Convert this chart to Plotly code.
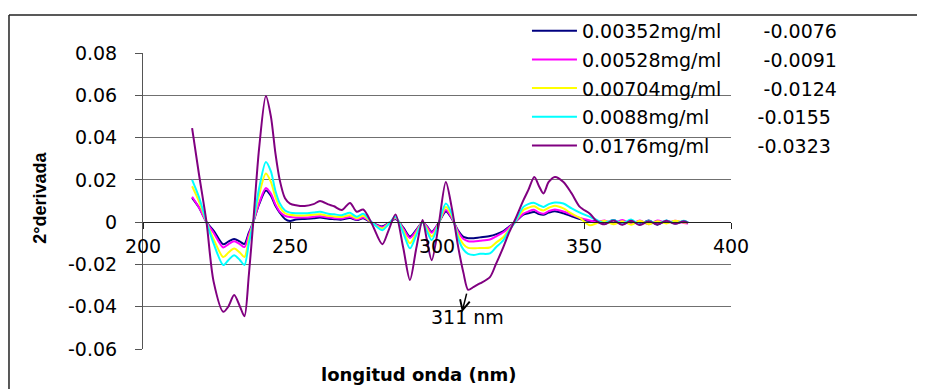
import plotly.graph_objects as go

# ---- data ----
wavelength = [216.7, 219, 221.6, 224, 227.3, 229, 231, 233, 234.5, 236,
              237.5, 239.5, 241.8, 243.5, 245, 246.5, 248.3, 250, 252, 255,
              258, 260.2, 263, 265, 267.6, 270.4, 272.7, 274.9, 277.8, 281.4,
              283.5, 285.9, 288.5, 290.8, 293, 295.1, 296.5, 298.2, 300.5, 303,
              305, 307.2, 309, 310.6, 312.5, 314.6, 318, 320, 322.6, 324.5,
              326.5, 329.4, 331, 333.1, 334.7, 336.2, 338, 340.1, 343, 345.8,
              348.6, 352, 354.3, 357, 360, 363, 366, 369, 372, 375,
              378, 381, 384, 385.4]

s_00352 = [0.0115, 0.007, 0.0, -0.004, -0.0105, -0.0092, -0.0080, -0.0092, -0.0103, -0.005,
           0.0, 0.0085, 0.0150, 0.0125, 0.0078, 0.0045, 0.0015, 0.0005, 0.0012, 0.0015,
           0.0018, 0.0022, 0.0016, 0.0014, 0.0012, 0.0020, 0.0010, 0.0018, -0.0002, -0.0020,
           -0.0005, 0.0015, -0.0025, -0.0068, -0.0035, 0.0, -0.0018, -0.0045, -0.0005, 0.0050,
           0.0018, -0.0040, -0.0070, -0.0076, -0.0076, -0.0072, -0.0066, -0.0058, -0.0042, -0.0022,
           0.0, 0.0035, 0.0042, 0.0048, 0.0038, 0.0035, 0.0045, 0.0052, 0.0042, 0.0028,
           0.0015, 0.0005, 0.0005, -0.0008, 0.0010, -0.0010, 0.0006, -0.0010, 0.0008, -0.0012,
           0.0006, -0.0006, 0.0004, -0.0002]

s_00528 = [0.012, 0.007, 0.0, -0.005, -0.0120, -0.0105, -0.0090, -0.0105, -0.0118, -0.006,
           0.0, 0.009, 0.0162, 0.0135, 0.0085, 0.005, 0.0030, 0.0024, 0.0022, 0.0022,
           0.0025, 0.0028, 0.0022, 0.0019, 0.0017, 0.0024, 0.0012, 0.0022, -0.0002, -0.0024,
           -0.0006, 0.0018, -0.003, -0.0075, -0.004, 0.0, -0.002, -0.005, -0.0005, 0.0058,
           0.002, -0.0045, -0.0080, -0.0090, -0.0091, -0.0088, -0.0082, -0.0068, -0.0048, -0.0025,
           0.0, 0.0040, 0.0050, 0.0058, 0.0045, 0.0040, 0.0052, 0.0060, 0.0050, 0.0035,
           0.0020, 0.0008, 0.0, 0.0008, -0.0006, 0.0010, -0.0008, 0.0008, -0.0010, 0.0008,
           -0.0004, 0.0006, -0.0004, -0.0006]

s_00704 = [0.017, 0.010, 0.0, -0.008, -0.0165, -0.0145, -0.0125, -0.0145, -0.0165, -0.008,
           0.0, 0.013, 0.023, 0.019, 0.012, 0.007, 0.0042, 0.0035, 0.0032, 0.0032,
           0.0035, 0.0037, 0.0030, 0.0027, 0.0024, 0.0033, 0.0018, 0.0030, -0.0002, -0.0030,
           -0.0008, 0.0022, -0.004, -0.0100, -0.005, 0.0, -0.003, -0.0068, -0.001, 0.0072,
           0.003, -0.006, -0.0105, -0.0122, -0.0124, -0.0122, -0.0120, -0.0098, -0.0070, -0.0035,
           0.0, 0.0058, 0.0068, 0.0075, 0.0062, 0.0055, 0.0068, 0.0078, 0.0065, 0.0040,
           0.0020, -0.0015, -0.0005, 0.0006, -0.0010, 0.0004, -0.0012, 0.0006, -0.0010, 0.0004,
           -0.0006, 0.0006, -0.0002, 0.0]

s_0088 = [0.020, 0.012, 0.0, -0.010, -0.0203, -0.018, -0.0156, -0.018, -0.0203, -0.010,
          0.0, 0.016, 0.0285, 0.024, 0.015, 0.009, 0.0055, 0.0045, 0.0042, 0.0042,
          0.0046, 0.0049, 0.0040, 0.0037, 0.0033, 0.0044, 0.0025, 0.0040, 0.0, -0.0038,
          -0.001, 0.0025, -0.005, -0.0124, -0.006, 0.0, -0.004, -0.0085, -0.001, 0.0088,
          0.004, -0.0077, -0.013, -0.0150, -0.0155, -0.0150, -0.0148, -0.012, -0.0085, -0.004,
          0.0, 0.0072, 0.0085, 0.0091, 0.008, 0.0072, 0.0085, 0.0093, 0.0088, 0.0065,
          0.0045, 0.0025, 0.0010, -0.0004, 0.0010, -0.0006, 0.0012, -0.0012, 0.0006, -0.0008,
          0.0008, -0.0006, 0.0006, -0.0002]

s_0176 = [0.0445, 0.023, 0.0, -0.028, -0.0424, -0.040, -0.0345, -0.040, -0.0445, -0.025,
          0.0, 0.035, 0.0597, 0.050, 0.033, 0.020, 0.0113, 0.0088, 0.0080, 0.0076,
          0.0085, 0.0100, 0.0084, 0.0075, 0.0057, 0.0091, 0.0049, 0.0060, -0.0006, -0.0104,
          -0.004, 0.0036, -0.012, -0.0274, -0.012, 0.001, -0.008, -0.018, -0.002, 0.019,
          0.007, -0.0117, -0.024, -0.032, -0.0306, -0.029, -0.026, -0.020, -0.0117, -0.005,
          0.001, 0.0104, 0.015, 0.0214, 0.017, 0.0136, 0.019, 0.0214, 0.019, 0.0136,
          0.0072, 0.0040, 0.0005, -0.0010, 0.0008, -0.0012, 0.0006, -0.0014, 0.0004, -0.0010,
          0.0006, -0.0008, 0.0004, -0.0004]

concentrations = ["0.00352mg/ml", "0.00528mg/ml", "0.00704mg/ml", "0.0088mg/ml", "0.0176mg/ml"]
values_311 = ["-0.0076", "-0.0091", "-0.0124", "-0.0155", "-0.0323"]
series = [s_00352, s_00528, s_00704, s_0088, s_0176]
colors = ["#000080", "#FF00FF", "#FFFF00", "#00FFFF", "#800080"]

y_tickvals = [0.08, 0.06, 0.04, 0.02, 0, -0.02, -0.04, -0.06]
y_ticktext = ["0.08", "0.06", "0.04", "0.02", "0", "-0.02", "-0.04", "-0.06"]
x_tickvals = [200, 250, 300, 350, 400]
x_ticktext = ["200", "250", "300", "350", "400"]

marker_nm = 311
marker_label = "311 nm"

FONT = "DejaVu Sans"
NB = "\u00a0"

fig = go.Figure()
for i, (name, val, ys, col) in enumerate(zip(concentrations, values_311, series, colors)):
    gap = 7 if len(name) >= 12 else 8
    fig.add_trace(go.Scatter(
        x=wavelength, y=ys, mode="lines",
        name=name + NB * gap + val,
        legendgroup="g%d" % i,
        line=dict(color=col, width=2, shape="spline", smoothing=0.8),
    ))

# the page body adds an 8px offset, so margins are shifted accordingly
fig.update_layout(
    width=925, height=389,
    margin=dict(l=135, r=202, t=45, b=48, autoexpand=False),
    paper_bgcolor="white", plot_bgcolor="white",
    font=dict(family=FONT, size=19, color="black"),
    showlegend=True,
    legend=dict(x=0.653, y=1.139, xanchor="left", yanchor="top",
                bgcolor="rgba(0,0,0,0)", font=dict(family=FONT, size=19, color="black"),
                itemwidth=45, tracegroupgap=1, itemclick=False),
    xaxis=dict(range=[200, 400], anchor="free", position=0.6 / 1.4,
               showgrid=False, zeroline=False, showline=True, linecolor="#222", linewidth=1,
               ticks="outside", ticklen=6, tickcolor="#222",
               tickvals=x_tickvals, ticktext=x_ticktext, ticklabelstandoff=1,
               tickfont=dict(family=FONT, size=19)),
    yaxis=dict(range=[-0.06, 0.08], showgrid=True, gridcolor="#707070", gridwidth=1,
               zeroline=False, showline=True, linecolor="#555", linewidth=1,
               ticks="outside", ticklen=7, tickcolor="#555",
               tickvals=y_tickvals, ticktext=y_ticktext, ticklabelstandoff=14,
               tickfont=dict(family=FONT, size=19)),
)

# axis titles
fig.add_annotation(text="<b>longitud onda (nm)</b>", xref="paper", yref="paper",
                   x=0.4677, y=-0.128, showarrow=False,
                   font=dict(family=FONT, size=18))
fig.add_annotation(text="<b>2°derivada</b>", xref="paper", yref="paper",
                   x=-0.196, y=0.51, showarrow=False, textangle=-90,
                   font=dict(family="Liberation Sans", size=18))

# 311 nm marker
fig.add_annotation(x=marker_nm - 2.5, y=-0.0426, ax=marker_nm - 0.8, ay=-0.0331,
                   xref="x", yref="y", axref="x", ayref="y", text="",
                   showarrow=True, arrowhead=5, arrowsize=1.3, arrowwidth=1.5,
                   arrowcolor="black", standoff=0, startstandoff=0)
fig.add_annotation(x=marker_nm - 0.5, y=-0.045, xref="x", yref="y", text=marker_label,
                   showarrow=False, font=dict(family=FONT, size=19))

# outer frame
fig.add_shape(type="line", xref="paper", yref="paper", x0=-0.2279, x1=-0.2279, y0=-0.3, y1=1.128,
              line=dict(color="#222", width=1.5))
fig.add_shape(type="line", xref="paper", yref="paper", x0=-0.2279, x1=1.5, y0=1.128, y1=1.128,
              line=dict(color="#222", width=1.5))

fig.write_html("out.html")
